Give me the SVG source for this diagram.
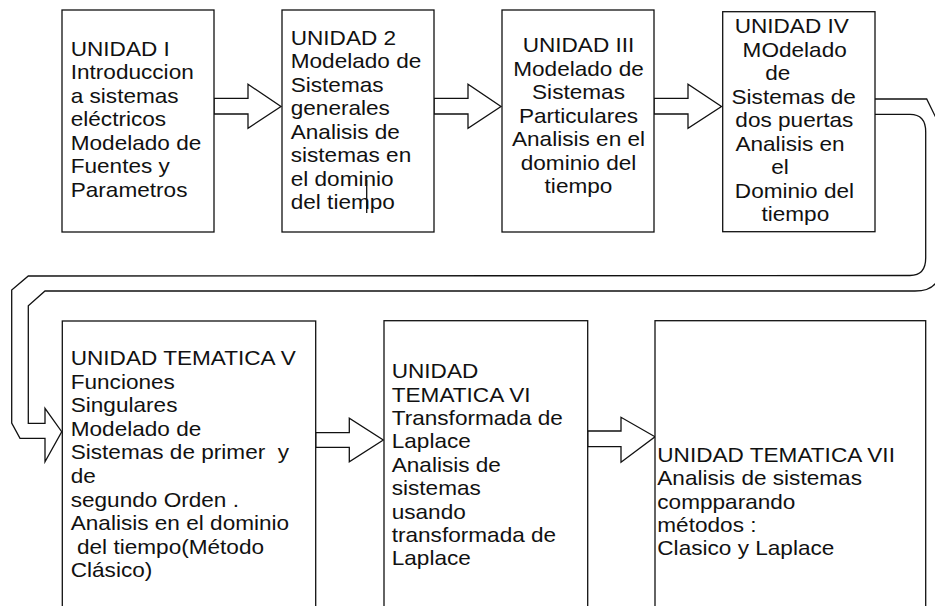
<svg xmlns="http://www.w3.org/2000/svg" width="935" height="606" viewBox="0 0 935 606">
<style>
.box{fill:#fff;stroke:#111;stroke-width:1.3}
.conn{fill:#fff;stroke:#111;stroke-width:1.3;stroke-linejoin:miter}
.band{fill:none;stroke:#111;stroke-width:1.3}
.t{font-family:"Liberation Sans",Arial,sans-serif;font-size:20px;fill:#111;white-space:pre}
.c{text-anchor:middle}
</style>
<rect width="935" height="606" fill="#fff"/>
<g id="connectors">
<polygon class="conn" points="214,98.3 248,98.3 248,84.3 281,106.5 248,128.3 248,114 214,114"/>
<polygon class="conn" points="434,98.3 468,98.3 468,84.3 501,106.5 468,128.3 468,114 434,114"/>
<polygon class="conn" points="654,98.3 688,98.3 688,84.3 721.5,106.5 688,128.3 688,114 654,114"/>
<path class="band" d="M875,99 L926.7,99 L940,126 L940,268 Q940,291 915,291 L45,291 L28.3,305.7 L28.3,423.3 L45,423.3 L45,408.3 L61.7,431.7 L45,461.7 L45,438.3 L20,438.3 L11.7,423 L11.7,290 L28.3,276 L910,275.5 Q925.7,275.5 925.7,258 L925.7,131.7 Q925.7,114.3 910,114.3 L875,114.3"/>
<polygon class="conn" points="315.7,432.7 349.3,432.7 349.3,418.3 383.3,440 349.3,461.7 349.3,447.3 315.7,447.3"/>
<polygon class="conn" points="587.7,431 621,431 621,417.3 655,436.7 621,462.3 621,446.7 587.7,446.7"/>
</g>
<g id="unidad1">
<rect class="box" x="62" y="10" width="152" height="222"/>
<text class="t" transform="translate(70.7 0) scale(1.13 1)"><tspan x="0" y="56">UNIDAD I</tspan><tspan x="0" y="79.5">Introduccion</tspan><tspan x="0" y="103">a sistemas</tspan><tspan x="0" y="126.5">eléctricos</tspan><tspan x="0" y="150">Modelado de</tspan><tspan x="0" y="173.5">Fuentes y</tspan><tspan x="0" y="197">Parametros</tspan></text>
</g>
<g id="unidad2">
<rect class="box" x="282" y="10" width="152" height="222"/>
<text class="t" transform="translate(290.7 0) scale(1.13 1)"><tspan x="0" y="45">UNIDAD 2</tspan><tspan x="0" y="68.5">Modelado de</tspan><tspan x="0" y="92">Sistemas</tspan><tspan x="0" y="115.4">generales</tspan><tspan x="0" y="138.9">Analisis de</tspan><tspan x="0" y="162.4">sistemas en</tspan><tspan x="0" y="185.8">el dominio</tspan><tspan x="0" y="209.3">del tiempo</tspan></text>
<line x1="366.7" y1="180" x2="366.7" y2="213" stroke="#111" stroke-width="1.3"/>
</g>
<g id="unidad3">
<rect class="box" x="502" y="10" width="152" height="222"/>
<text class="t c" transform="translate(578.5 0) scale(1.13 1)"><tspan x="0" y="52.3">UNIDAD III</tspan><tspan x="0" y="75.8">Modelado de</tspan><tspan x="0" y="99.3">Sistemas</tspan><tspan x="0" y="122.8">Particulares</tspan><tspan x="0" y="146.3">Analisis en el</tspan><tspan x="0" y="169.8">dominio del</tspan><tspan x="0" y="193.3">tiempo</tspan></text>
</g>
<g id="unidad4">
<rect class="box" x="722.7" y="11.7" width="152.3" height="220"/>
<text class="t c" transform="translate(794 0) scale(1.13 1)"><tspan x="-2" y="33.3">UNIDAD IV</tspan><tspan x="0.6" y="56.8">MOdelado</tspan><tspan x="-14.3" y="80.2">de</tspan><tspan x="-0.3" y="103.7">Sistemas de</tspan><tspan x="0.3" y="127.2">dos puertas</tspan><tspan x="-3.5" y="150.6">Analisis en</tspan><tspan x="-12.4" y="174.1">el</tspan><tspan x="0.4" y="197.6">Dominio del</tspan><tspan x="1.2" y="221">tiempo</tspan></text>
</g>
<g id="unidad5">
<rect class="box" x="62.3" y="321" width="253.4" height="300"/>
<text class="t" transform="translate(70.7 0) scale(1.13 1)"><tspan x="0" y="365">UNIDAD TEMATICA V</tspan><tspan x="0" y="388.6">Funciones</tspan><tspan x="0" y="412.2">Singulares</tspan><tspan x="0" y="435.8">Modelado de</tspan><tspan x="0" y="459.4">Sistemas de primer  y</tspan><tspan x="0" y="483">de</tspan><tspan x="0" y="506.6">segundo Orden .</tspan><tspan x="0" y="530.2">Analisis en el dominio</tspan><tspan x="0" y="553.8"> del tiempo(Método</tspan><tspan x="0" y="577.4">Clásico)</tspan></text>
</g>
<g id="unidad6">
<rect class="box" x="384" y="320.7" width="203.7" height="300"/>
<text class="t" transform="translate(391.7 0) scale(1.13 1)"><tspan x="0" y="378.3">UNIDAD</tspan><tspan x="0" y="401.7">TEMATICA VI</tspan><tspan x="0" y="425.1">Transformada de</tspan><tspan x="0" y="448.5">Laplace</tspan><tspan x="0" y="471.9">Analisis de</tspan><tspan x="0" y="495.3">sistemas</tspan><tspan x="0" y="518.7">usando</tspan><tspan x="0" y="542.1">transformada de</tspan><tspan x="0" y="565.5">Laplace</tspan></text>
</g>
<g id="unidad7">
<rect class="box" x="655" y="320.7" width="270.7" height="300"/>
<text class="t" transform="translate(657.3 0) scale(1.13 1)"><tspan x="0" y="462.3">UNIDAD TEMATICA VII</tspan><tspan x="0" y="485.5">Analisis de sistemas</tspan><tspan x="0" y="508.7">compparando</tspan><tspan x="0" y="531.9">métodos :</tspan><tspan x="0" y="555.1">Clasico y Laplace</tspan></text>
</g>
</svg>
